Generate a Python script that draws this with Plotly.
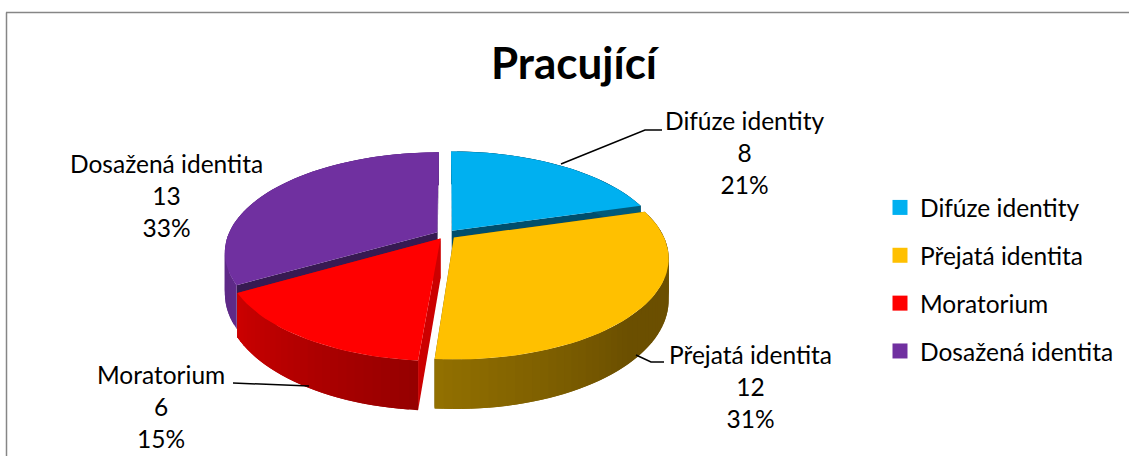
import numpy as np
import plotly.graph_objects as go

W, H = 1129, 456
TITLE = "Pracující"
categories = ["Difúze identity", "Přejatá identita", "Moratorium", "Dosažená identita"]
values = [8, 12, 6, 13]
top_colors = ["#00B0F0", "#FFC000", "#FF0000", "#7030A0"]
label_centers = [(744, 152), (750, 386), (161, 406), (166, 195)]
leaders = [
    ([561, 645, 662], [164, 130, 130]),
    ([636, 651, 664], [355, 362, 362]),
    ([309, 233], [386, 383]),
]

# projection of the pie
CX, CY, RX, RY, K, DEPTH, EXPLODE = 446, 234.5, 209, 96.5, 0.198, 39.5, 0.048
FONT = "Lato"
wall_ramps = {
    0: [(0, "#005A7A"), (1, "#005A7A")],
    1: [(0, "#6B4F00"), (0.55, "#6B4F00"), (1, "#927000")],
    2: [(0, "#960000"), (1, "#CC0000")],
    3: [(0, "#5F2A88"), (1, "#5F2A88")],
}
cut_colors = ["#004E6C", "#6B4F00", "#CC0000", "#371A52"]
draw_order = [3, 0, 2, 1]


def proj(u, v, drop=0.0):
    d = 1 + K * v
    return CX + RX * u / d, CY - RY * v / d + drop / d


def rgb(h):
    return np.array([int(h[i:i + 2], 16) for i in (1, 3, 5)], float)


def ramp(stops, t):
    for (a, ca), (b, cb) in zip(stops, stops[1:]):
        if t <= b:
            f = (t - a) / (b - a)
            c = rgb(ca) * (1 - f) + rgb(cb) * f
            return "rgb(%d,%d,%d)" % tuple(c)
    return stops[-1][1]


total = sum(values)
edges = np.cumsum([0] + values) / total * 2 * np.pi
fig = go.Figure()


def poly(xs, ys, color):
    fig.add_trace(go.Scatter(x=list(xs), y=list(ys), mode="lines", fill="toself",
                             fillcolor=color, line=dict(color=color, width=0),
                             hoverinfo="skip", showlegend=False))


for i in draw_order:
    a0, a1 = edges[i], edges[i + 1]
    mid = (a0 + a1) / 2
    ou, ov = EXPLODE * np.sin(mid), EXPLODE * np.cos(mid)
    th = np.linspace(a0, a1, max(int((a1 - a0) * 30), 6))
    us, vs = ou + np.sin(th), ov + np.cos(th)
    # radial cut faces
    for a in (a0, a1):
        ue, ve = ou + np.sin(a), ov + np.cos(a)
        p = [proj(ou, ov), proj(ue, ve), proj(ue, ve, DEPTH), proj(ou, ov, DEPTH)]
        poly([q[0] for q in p] + [p[0][0]], [q[1] for q in p] + [p[0][1]], cut_colors[i])
    # outer wall, in overlapping strips so that the shading can run along it without seams
    for j in range(len(th) - 1):
        t = j / (len(th) - 2)
        e = min(j + 2, len(th) - 1)
        top = [proj(us[n], vs[n]) for n in range(j, e + 1)]
        bot = [proj(us[n], vs[n], DEPTH) for n in range(e, j - 1, -1)]
        p = top + bot + [top[0]]
        poly([q[0] for q in p], [q[1] for q in p], ramp(wall_ramps[i], t))
    # top face
    px, py = zip(*[proj(ou, ov)] + [proj(u, v) for u, v in zip(us, vs)] + [proj(ou, ov)])
    poly(px, py, top_colors[i])

# leader lines
for lx, ly in leaders:
    fig.add_trace(go.Scatter(x=lx, y=ly, mode="lines", line=dict(color="black", width=1.5),
                             hoverinfo="skip", showlegend=False))

# legend entries
for name, col in zip(categories, top_colors):
    fig.add_trace(go.Scatter(x=[None], y=[None], mode="markers", name=name, legendgroup=name,
                             marker=dict(symbol="square", size=15, color=col)))

for name, v, (x, y) in zip(categories, values, label_centers):
    fig.add_annotation(x=x, y=y, text=f"{name}<br>{v}<br>{round(v / total * 100)}%", showarrow=False,
                       xanchor="center", yanchor="middle", align="center",
                       font=dict(family=FONT, size=24.5, color="black"))

fig.update_layout(
    width=W, height=H, autosize=False, margin=dict(l=0, r=0, t=0, b=0),
    paper_bgcolor="white", plot_bgcolor="white",
    xaxis=dict(range=[0, W], visible=False, fixedrange=True),
    yaxis=dict(range=[H, 0], visible=False, fixedrange=True),
    title=dict(text=f"<b>{TITLE}</b>", x=574 / W, y=1 - 64 / H, xanchor="center", yanchor="middle",
               font=dict(family=FONT, size=44, color="black")),
    legend=dict(x=880 / W, y=1 - 185 / H, xanchor="left", yanchor="top", tracegroupgap=13,
                font=dict(family=FONT, size=24.5, color="black"), bgcolor="rgba(0,0,0,0)"),
    shapes=[
        dict(type="line", xref="paper", yref="paper", x0=6.5 / W, x1=6.5 / W, y0=0, y1=1 - 12.5 / H,
             line=dict(color="#868686", width=1.5)),
        dict(type="line", xref="paper", yref="paper", x0=6 / W, x1=1, y0=1 - 12.5 / H, y1=1 - 12.5 / H,
             line=dict(color="#868686", width=1.5)),
    ],
)
fig.write_html("out.html", config={"displayModeBar": False},
               post_script="document.body.style.margin='0';document.documentElement.style.overflow='hidden';")
